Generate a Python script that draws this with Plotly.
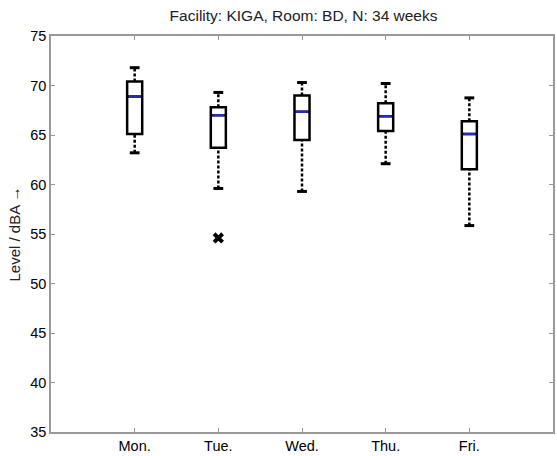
import plotly.graph_objects as go

days = ["Mon.", "Tue.", "Wed.", "Thu.", "Fri."]
positions = [1, 2, 3, 4, 5]
upper_whisker = [71.8, 69.3, 70.3, 70.2, 68.75]
q3 = [70.4, 67.8, 69.0, 68.2, 66.4]
median = [68.9, 67.0, 67.35, 66.9, 65.1]
q1 = [65.1, 63.7, 64.5, 65.4, 61.55]
lower_whisker = [63.2, 59.6, 59.3, 62.1, 55.85]
outlier_pos = [2]
outlier_val = [54.6]
yticks = [35, 40, 45, 50, 55, 60, 65, 70, 75]

BOX_W = 0.18
font = "Liberation Sans, Arial, sans-serif"

fig = go.Figure()

# dashed whiskers
wx, wy = [], []
for p, lo, a, b, hi in zip(positions, lower_whisker, q1, q3, upper_whisker):
    wx += [p, p, None, p, p, None]
    wy += [lo, a, None, b, hi, None]
fig.add_trace(go.Scatter(x=wx, y=wy, mode="lines",
                         line=dict(color="black", width=2.5, dash="3px,2px"),
                         hoverinfo="skip", showlegend=False))
# whisker caps
fig.add_trace(go.Scatter(x=positions + positions, y=lower_whisker + upper_whisker,
                         mode="markers",
                         marker=dict(symbol="line-ew", size=7,
                                     line=dict(color="black", width=3)),
                         hoverinfo="skip", showlegend=False))
# boxes
fig.add_trace(go.Box(x=positions, q1=q1, median=median, q3=q3,
                     lowerfence=q1, upperfence=q3, width=BOX_W,
                     line=dict(color="black", width=2.5), fillcolor="white",
                     boxpoints=False, showlegend=False))
# blue median lines
mx, my = [], []
for p, m in zip(positions, median):
    mx += [p - BOX_W / 2 + 0.02, p + BOX_W / 2 - 0.02, None]
    my += [m, m, None]
fig.add_trace(go.Scatter(x=mx, y=my, mode="lines",
                         line=dict(color="#2a2ab8", width=2.5),
                         hoverinfo="skip", showlegend=False))
# outlier
fig.add_trace(go.Scatter(x=outlier_pos, y=outlier_val, mode="markers",
                         marker=dict(symbol="x", size=10, color="black",
                                     line=dict(width=0)),
                         hoverinfo="skip", showlegend=False))

axis_common = dict(showline=True, linecolor="#999999", linewidth=1.5, mirror="ticks",
                   ticks="inside", ticklen=4, tickcolor="#999999", tickwidth=1,
                   showgrid=False, zeroline=False,
                   tickfont=dict(family=font, size=14.5, color="black"))

fig.update_layout(
    width=557, height=456,
    margin=dict(l=51, r=2, t=36, b=17),
    paper_bgcolor="white", plot_bgcolor="white",
    title=dict(text="Facility: KIGA, Room: BD, N: 34 weeks", x=0.545, xanchor="center",
               y=0.966, yanchor="middle",
               font=dict(family=font, size=15.5, color="#222222")),
    xaxis=dict(range=[0, 6], tickmode="array", tickvals=positions, ticktext=days,
               **axis_common),
    yaxis=dict(range=[35, 75], tickmode="array", tickvals=yticks,
               title=dict(text="Level / dBA \u2192", standoff=6,
                          font=dict(family=font, size=15, color="#222222")),
               **axis_common),
)

fig.write_html("out.html")
